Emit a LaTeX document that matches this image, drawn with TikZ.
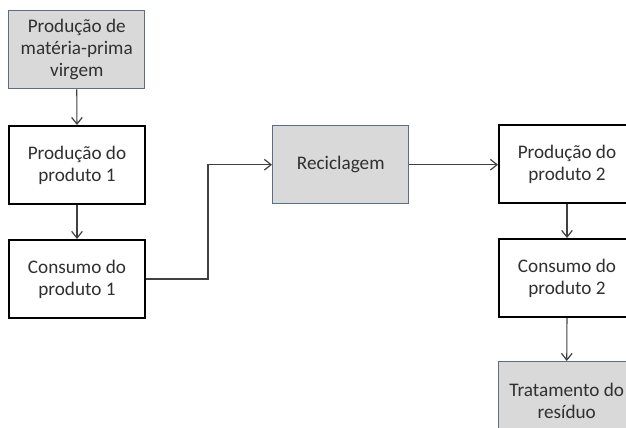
\documentclass[tikz,border=0pt]{standalone}
\usepackage{fontspec}
\setmainfont{Carlito}
\usetikzlibrary{arrows.meta}
\definecolor{txt}{HTML}{303030}
\definecolor{grayfill}{HTML}{D9D9D9}
\definecolor{grayedge}{HTML}{5A6E87}
\tikzset{
  x=0.75pt, y=-0.75pt,
  base/.style={minimum width=102pt, minimum height=58.5pt, align=center, text=txt,
    font=\fontsize{14.4}{16.4}\selectfont, inner sep=0pt, anchor=north west},
  whitebox/.style={base, draw=black, line width=1.5pt, fill=white},
  graybox/.style={base, draw=grayedge, line width=1.1pt, fill=grayfill},
  conn/.style={draw=black!75, line width=0.8pt, -{Straight Barb[length=5pt,width=8pt,line width=0.9pt]}}
}
\begin{document}
\begin{tikzpicture}
\useasboundingbox (0,0) rectangle (626,428);
\clip (0,0) rectangle (626,428);
\node[graybox] (mp) at (8,10) {Produção de\\matéria-prima\\virgem};
\node[whitebox] (p1) at (8,125) {Produção do\\produto 1};
\node[whitebox] (c1) at (8,239) {Consumo do\\produto 1};
\node[graybox] (rec) at (272,125) {Reciclagem};
\node[whitebox] (p2) at (498,124) {Produção do\\produto 2};
\node[whitebox] (c2) at (498,238) {Consumo do\\produto 2};
\node[graybox] (tr) at (498,361) {Tratamento do\\resíduo};
\coordinate (bend) at (208,0);
\draw[conn] (mp.south) -- (p1.north);
\draw[conn] (p1.south) -- (c1.north);
\draw[conn] (c1.east) -- (c1.east -| bend) -- (rec.west -| bend) -- (rec.west);
\draw[conn] (rec.east) -- (rec.east -| p2.west);
\draw[conn] (p2.south) -- (c2.north);
\draw[conn] (c2.south) -- (tr.north);
\end{tikzpicture}
\end{document}
